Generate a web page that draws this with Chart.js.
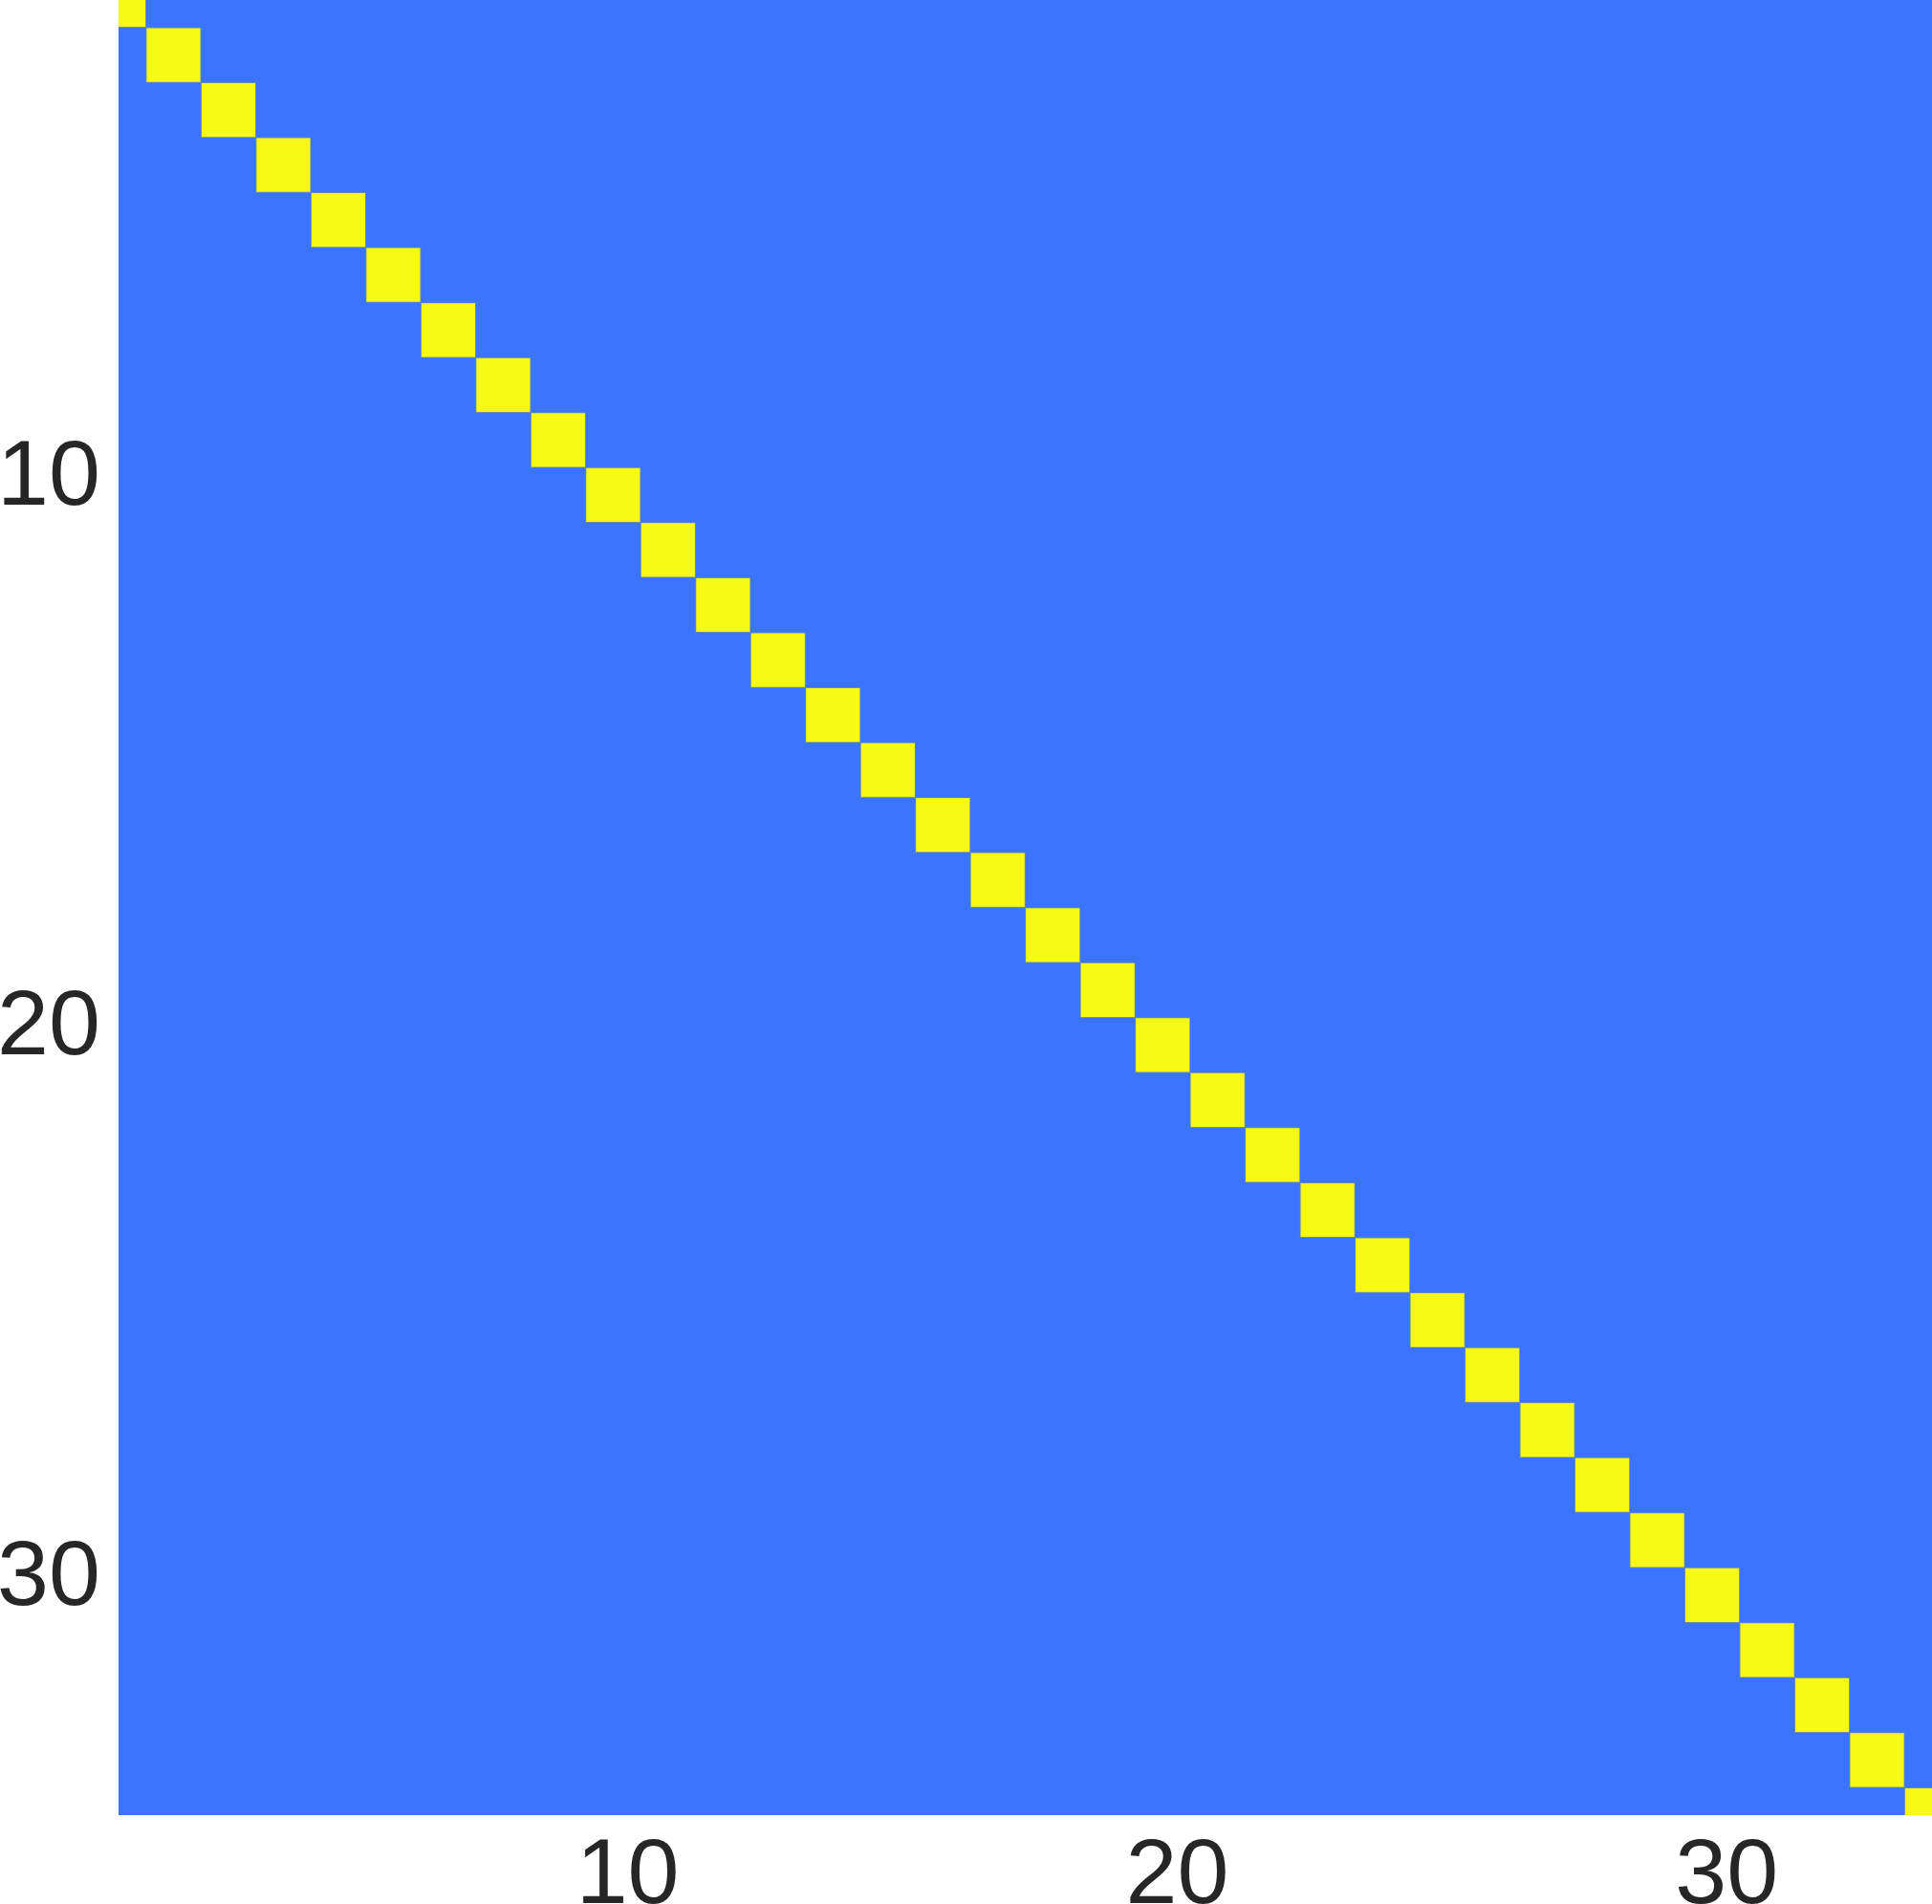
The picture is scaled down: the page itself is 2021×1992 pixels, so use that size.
<!DOCTYPE html>
<html>
<head>
<meta charset="utf-8">
<script src="https://cdn.jsdelivr.net/npm/chart.js@4.4.1/dist/chart.umd.min.js"></script>
<style>
    html, body { margin: 0; padding: 0; background: #ffffff; }
    canvas { display: block; }
</style>
</head>
<body>
<canvas id="mapa" width="2021" height="1992"></canvas>
<script>
// filas de la matriz (cada celda ocupa [k, k+1])
const filas = [1, 2, 3, 4, 5, 6, 7, 8, 9, 10, 11, 12, 13, 14, 15, 16, 17,
               18, 19, 20, 21, 22, 23, 24, 25, 26, 27, 28, 29, 30, 31, 32, 33, 34];
// columna donde cada fila vale 1 (la diagonal)
const columna_uno = [1, 2, 3, 4, 5, 6, 7, 8, 9, 10, 11, 12, 13, 14, 15, 16, 17,
                     18, 19, 20, 21, 22, 23, 24, 25, 26, 27, 28, 29, 30, 31, 32, 33, 34];
const valor_diagonal = [1, 1, 1, 1, 1, 1, 1, 1, 1, 1, 1, 1, 1, 1, 1, 1, 1,
                        1, 1, 1, 1, 1, 1, 1, 1, 1, 1, 1, 1, 1, 1, 1, 1, 1];
const valor_resto = 0;
const bordes_columnas = [1, 35];   // primera y última arista de columna
const vista = [1.5, 34.5];         // límites visibles de ambos ejes
const ticks_x = [10, 20, 30];
const ticks_y = [10, 20, 30];

// mapa de color de dos extremos
function Color_Valor(v) {
    return v >= 0.5 ? '#f7fa14' : '#3b75ff';
}

const fuente = { family: "'Liberation Sans', Arial, Helvetica, sans-serif", size: 97, lineHeight: 1 };

const celdas_uno = filas.map((f, i) => ({ y: f + 0.5, x: [columna_uno[i], columna_uno[i] + 1] }));
const celdas_cero = filas.map(f => ({ y: f + 0.5, x: [bordes_columnas[0], bordes_columnas[1]] }));

new Chart(document.getElementById('mapa').getContext('2d'), {
    type: 'bar',
    data: {
        datasets: [
            {
                label: 'diagonal',
                data: celdas_uno,
                backgroundColor: valor_diagonal.map(Color_Valor),
                borderColor: 'rgba(125, 150, 140, 0.75)',
                borderWidth: 1,
                borderSkipped: false,
                grouped: false,
                barPercentage: 1,
                categoryPercentage: 1,
                clip: 0,
                order: 0
            },
            {
                label: 'resto',
                data: celdas_cero,
                backgroundColor: Color_Valor(valor_resto),
                borderWidth: 0,
                inflateAmount: 1,
                grouped: false,
                barPercentage: 1,
                categoryPercentage: 1,
                clip: 0,
                order: 1
            }
        ]
    },
    options: {
        indexAxis: 'y',
        responsive: false,
        devicePixelRatio: 1,
        animation: false,
        layout: { padding: 0 },
        plugins: { legend: { display: false }, tooltip: { enabled: false } },
        scales: {
            x: {
                type: 'linear',
                min: vista[0],
                max: vista[1],
                offset: false,
                grid: { display: false, drawTicks: false, offset: false },
                border: { display: false },
                ticks: {
                    font: fuente,
                    color: '#262626',
                    padding: 17,
                    labelOffset: 44,
                    maxRotation: 0,
                    autoSkip: false,
                    callback: v => String(v)
                },
                afterBuildTicks: s => { s.ticks = ticks_x.map(v => ({ value: v })); },
                afterFit: s => { s.height = 93; s.paddingLeft = 0; s.paddingRight = 0; }
            },
            y: {
                type: 'linear',
                reverse: true,
                min: vista[0],
                max: vista[1],
                offset: false,
                grid: { display: false, drawTicks: false, offset: false },
                border: { display: false },
                ticks: {
                    font: fuente,
                    color: '#262626',
                    padding: 19,
                    labelOffset: 12,
                    autoSkip: false,
                    callback: v => String(v)
                },
                afterBuildTicks: s => { s.ticks = ticks_y.map(v => ({ value: v })); },
                afterFit: s => { s.width = 124; s.paddingTop = 0; s.paddingBottom = 0; }
            }
        }
    }
});
</script>
</body>
</html>
